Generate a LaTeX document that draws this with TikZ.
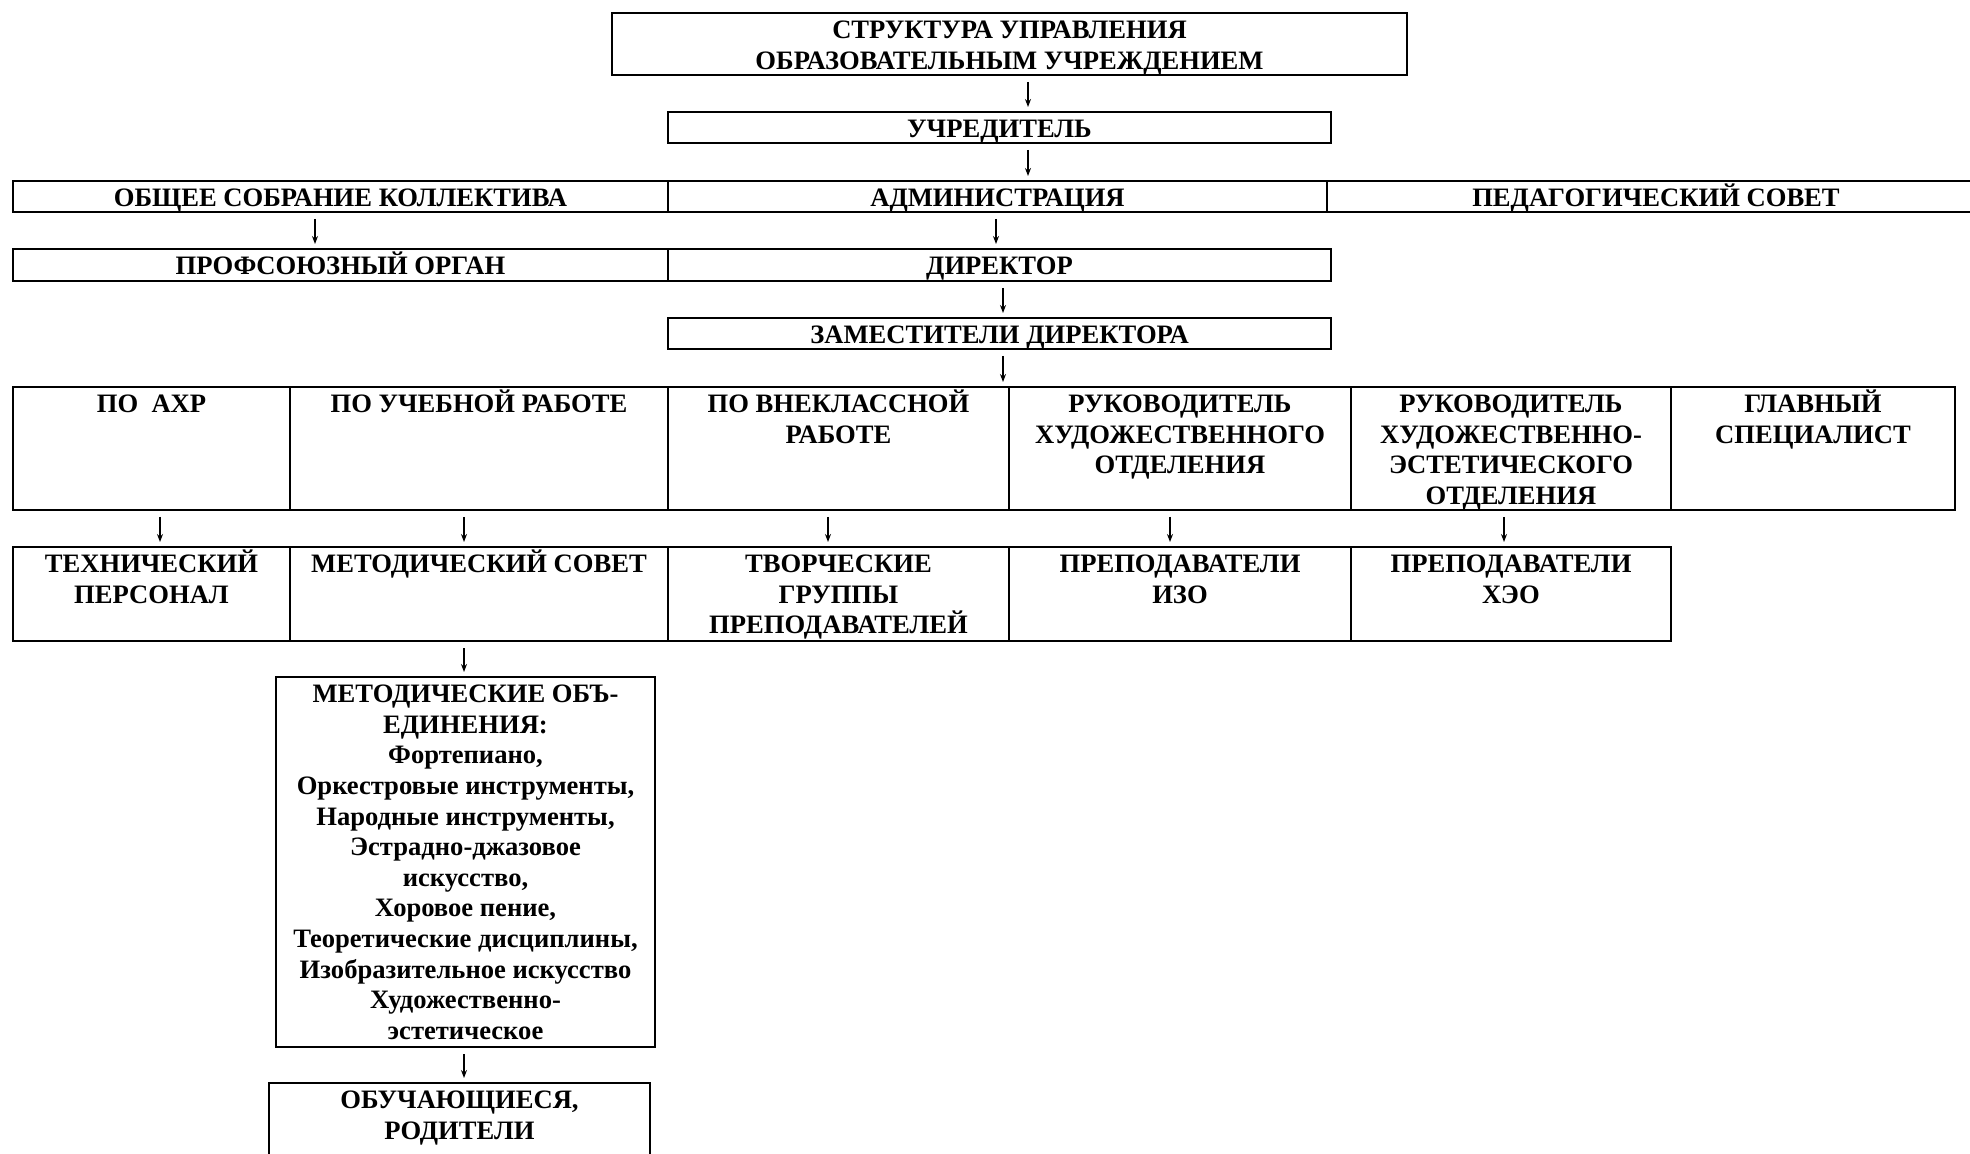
\documentclass[tikz,border=0pt]{standalone}
\usepackage{fontspec}
\setmainfont{Liberation Serif}
\usetikzlibrary{arrows.meta}
\newdimen\pxu \pxu=0.5pt
\tikzset{
  box/.style={draw, line width=1.3pt, inner sep=0pt, outer sep=0pt, anchor=north west,
    font=\fontsize{13.3pt}{15.3pt}\selectfont\bfseries},
  arr/.style={line width=0.6pt, -{Stealth[length=4pt,width=3pt]}, shorten <=3.5pt, shorten >=2.5pt}
}
\newcommand\cellbox[6]{%
  \node[box] (#1) at (#2,#3) {\parbox[t][\dimexpr\pxu*\numexpr#5-#3\relax\relax][t]{\dimexpr\pxu*\numexpr#4-#2\relax\relax}{\centering\rule{0pt}{12.8pt}#6\par}};}
\begin{document}
\begin{tikzpicture}[x=0.5pt,y=-0.5pt]
\useasboundingbox (0,0) rectangle (1970,1154);
\fill[white] (0,0) rectangle (1970,1154);
\clip (0,0) rectangle (1970,1154);
% boxes
\cellbox{top}{612}{13}{1407}{75}{СТРУКТУРА УПРАВЛЕНИЯ\\ОБРАЗОВАТЕЛЬНЫМ УЧРЕЖДЕНИЕМ}
\cellbox{uchr}{668}{112}{1331}{143}{УЧРЕДИТЕЛЬ}
\cellbox{obsh}{13}{181}{668}{212}{ОБЩЕЕ СОБРАНИЕ КОЛЛЕКТИВА}
\cellbox{adm}{668}{181}{1327}{212}{АДМИНИСТРАЦИЯ}
\cellbox{ped}{1327}{181}{1985}{212}{ПЕДАГОГИЧЕСКИЙ СОВЕТ}
\cellbox{prof}{13}{249}{668}{281}{ПРОФСОЮЗНЫЙ ОРГАН}
\cellbox{dir}{668}{249}{1331}{281}{ДИРЕКТОР}
\cellbox{zam}{668}{318}{1331}{349}{ЗАМЕСТИТЕЛИ ДИРЕКТОРА}
\cellbox{ra}{13}{387}{290}{510}{ПО~~АХР}
\cellbox{rb}{290}{387}{668}{510}{ПО УЧЕБНОЙ РАБОТЕ}
\cellbox{rc}{668}{387}{1009}{510}{ПО ВНЕКЛАССНОЙ\\РАБОТЕ}
\cellbox{rd}{1009}{387}{1351}{510}{РУКОВОДИТЕЛЬ\\ХУДОЖЕСТВЕННОГО\\ОТДЕЛЕНИЯ}
\cellbox{re}{1351}{387}{1671}{510}{РУКОВОДИТЕЛЬ\\ХУДОЖЕСТВЕННО-\\ЭСТЕТИЧЕСКОГО\\ОТДЕЛЕНИЯ}
\cellbox{rf}{1671}{387}{1955}{510}{ГЛАВНЫЙ\\СПЕЦИАЛИСТ}
\cellbox{sa}{13}{547}{290}{641}{ТЕХНИЧЕСКИЙ\\ПЕРСОНАЛ}
\cellbox{sb}{290}{547}{668}{641}{МЕТОДИЧЕСКИЙ СОВЕТ}
\cellbox{sc}{668}{547}{1009}{641}{ТВОРЧЕСКИЕ\\ГРУППЫ\\ПРЕПОДАВАТЕЛЕЙ}
\cellbox{sd}{1009}{547}{1351}{641}{ПРЕПОДАВАТЕЛИ\\ИЗО}
\cellbox{se}{1351}{547}{1671}{641}{ПРЕПОДАВАТЕЛИ\\ХЭО}
\cellbox{mo}{276}{677}{655}{1047}{МЕТОДИЧЕСКИЕ ОБЪ-\\ЕДИНЕНИЯ:\\Фортепиано,\\Оркестровые инструменты,\\Народные инструменты,\\Эстрадно-джазовое\\искусство,\\Хоровое пение,\\Теоретические дисциплины,\\Изобразительное искусство\\Художественно-\\эстетическое}
\cellbox{ob}{269}{1083}{650}{1175}{ОБУЧАЮЩИЕСЯ,\\РОДИТЕЛИ}
% arrow columns
\coordinate (x1) at (1028,0);
\coordinate (x2) at (315,0);
\coordinate (x3) at (996,0);
\coordinate (x4) at (1003,0);
\coordinate (x5) at (160,0);
\coordinate (x6) at (464,0);
\coordinate (x7) at (828,0);
\coordinate (x8) at (1170,0);
\coordinate (x9) at (1504,0);
% arrows
\draw[arr] (top.south -| x1) -- (uchr.north -| x1);
\draw[arr] (uchr.south -| x1) -- (adm.north -| x1);
\draw[arr] (obsh.south -| x2) -- (prof.north -| x2);
\draw[arr] (adm.south -| x3) -- (dir.north -| x3);
\draw[arr] (dir.south -| x4) -- (zam.north -| x4);
\draw[arr] (zam.south -| x4) -- (rc.north -| x4);
\draw[arr] (ra.south -| x5) -- (sa.north -| x5);
\draw[arr] (rb.south -| x6) -- (sb.north -| x6);
\draw[arr] (rc.south -| x7) -- (sc.north -| x7);
\draw[arr] (rd.south -| x8) -- (sd.north -| x8);
\draw[arr] (re.south -| x9) -- (se.north -| x9);
\draw[arr] (sb.south -| x6) -- (mo.north -| x6);
\draw[arr] (mo.south -| x6) -- (ob.north -| x6);
\end{tikzpicture}
\end{document}
